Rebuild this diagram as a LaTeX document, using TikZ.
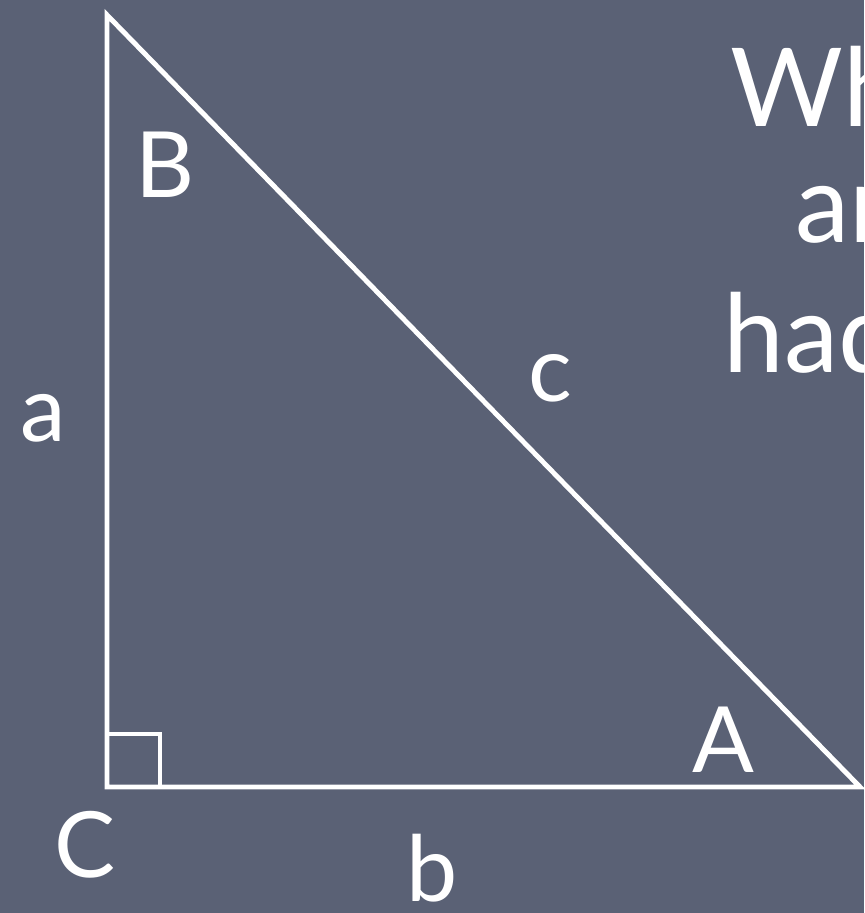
\documentclass[tikz,border=0pt]{standalone}
\usepackage{xcolor}
\usepackage{fontspec}
\setmainfont{Lato}
\usepackage{tikz}
\usetikzlibrary{positioning,calc}

\definecolor{slate}{RGB}{90,97,117}

\begin{document}
\begin{tikzpicture}[
  x=0.01cm, y=-0.01cm,
  side/.style={draw=white, line width=1.4pt, line join=miter},
  vlabel/.style={text=white, inner sep=0pt, font=\fontsize{26}{30}\selectfont},
  slide/.style={text=white, inner sep=0pt, anchor=base west, font=\fontsize{31}{36}\selectfont}
]
\useasboundingbox (0,0) rectangle (864,913);
\clip (0,0) rectangle (864,913);
\fill[slate] (0,0) rectangle (864,913);

\coordinate (top) at (107,15);
\coordinate (rt) at (107,787);
\coordinate (tip) at (860,787);

\draw[side] (top) -- (rt) -- (tip) -- cycle;
\draw[side] ($(rt)+(0,-53)$) -- ++(53,0) -- ++(0,53);

\node[vlabel] (labB) at (165,165) {B};
\node[vlabel] (labc) at (550,378) {c};
\node[vlabel] (laba) at (43,418) {a};
\node[vlabel] (labA) at (723,740) {A};
\node[vlabel] (labC) at (85,845) {C};
\node[vlabel] (labb) at (432,868) {b};

\node[slide] (line1) at (730,127) {Wh};
\node[slide] (line2) at (795,243) {ar};
\node[slide] (line3) at (723,373) {had};
\end{tikzpicture}
\end{document}
